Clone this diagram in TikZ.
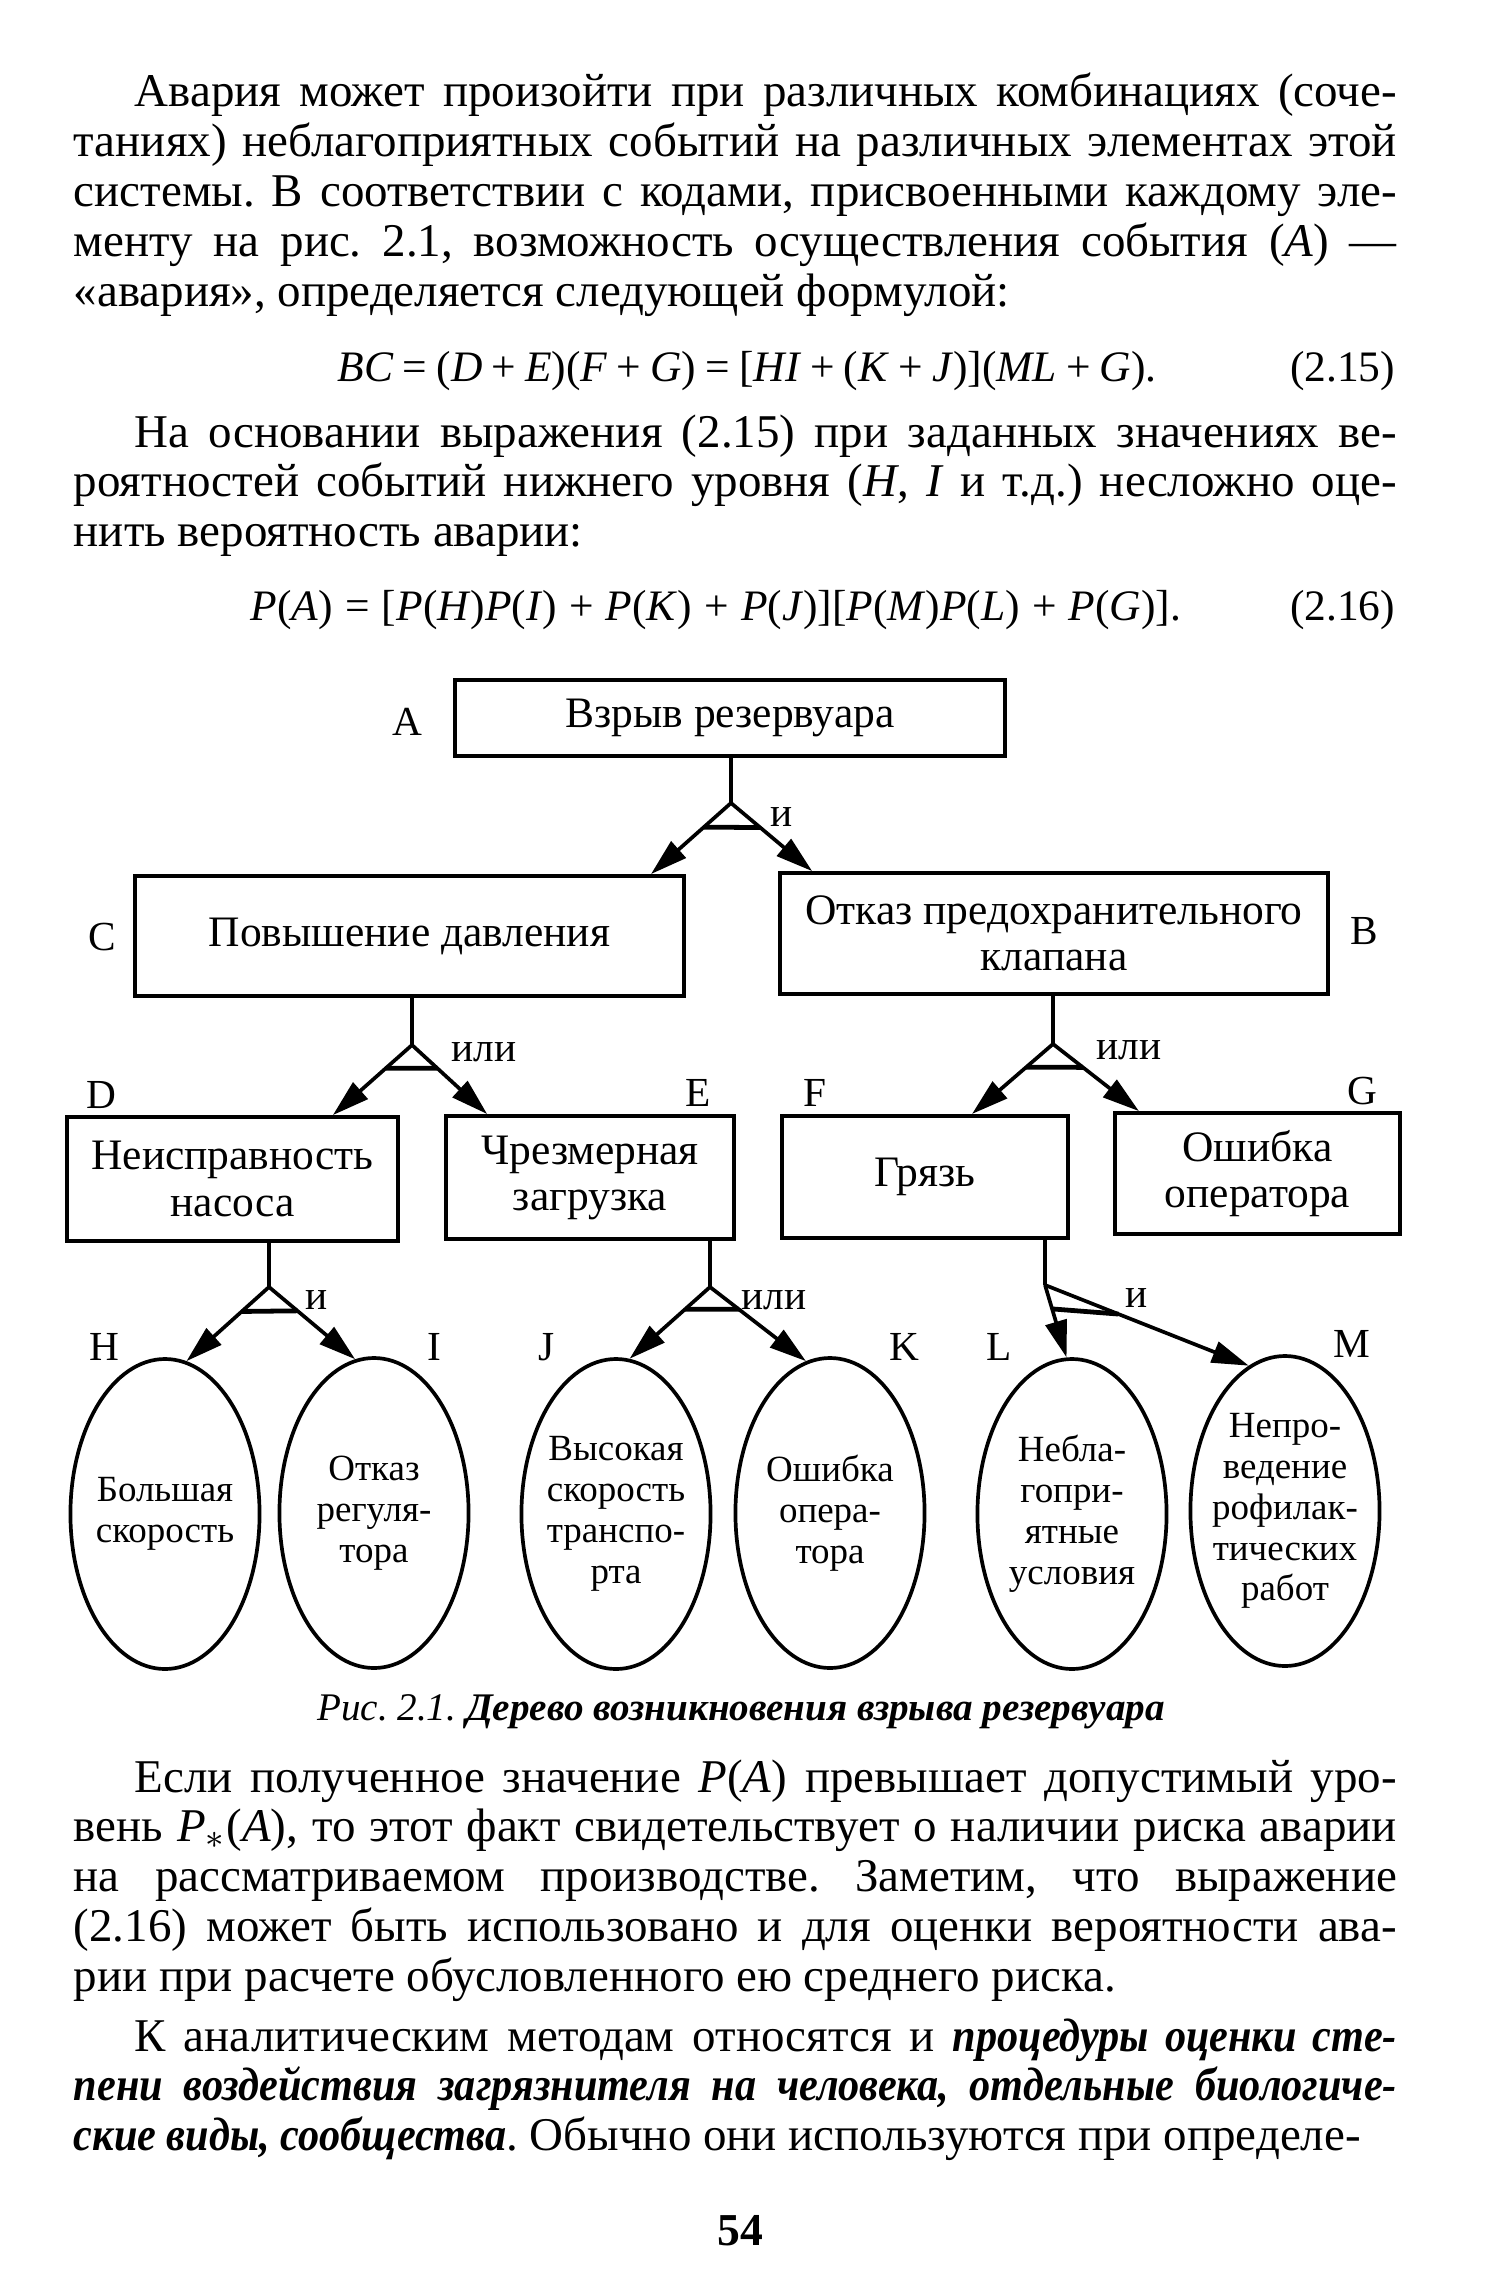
\documentclass[tikz,border=0pt]{standalone}
\usepackage{fontspec}
\setmainfont{Liberation Serif}
\newfontfamily\narrowserif{Liberation Serif}[FakeStretch=0.9]
\usetikzlibrary{shapes.geometric, arrows.meta, positioning, calc}
\def \bodysize {\fontsize{10.8}{11.45}\selectfont}
\def \formsize {\fontsize{10}{11.45}\selectfont}
\def \boxsize {\fontsize{10}{10.6}\selectfont}
\def \leafsize {\fontsize{8.5}{9.4}\selectfont}
\def \prob #1{\textit{P}(\textit{#1})}
\tolerance=10000
\hyphenpenalty=10000
\frenchspacing

\begin{document}
\begin{tikzpicture}[
    x=0.23pt, y=-0.23pt,
    para/.style={
        anchor=base west,
        inner sep=0pt,
        text width=304.3pt,
        align=justify,
        font=\bodysize
    },
    formula/.style={
        anchor=base west,
        inner sep=0pt,
        font=\formsize
    },
    eqnum/.style={
        anchor=base east,
        inner sep=0pt,
        font=\formsize
    },
    event/.style 2 args={
        rectangle,
        draw,
        line width=0.9pt,
        minimum width=#1,
        minimum height=#2,
        inner sep=0pt,
        align=center,
        font=\boxsize
    },
    leaf/.style={
        ellipse,
        draw,
        line width=0.85pt,
        minimum width=43.5pt,
        minimum height=71.3pt,
        inner sep=0pt
    },
    leaftext/.style={
        align=center,
        inner sep=0pt,
        font=\leafsize
    },
    tag/.style={
        inner sep=0pt,
        font=\fontsize{9.5}{10}\selectfont
    },
    gatename/.style={
        inner sep=0pt,
        font=\fontsize{9.5}{10}\selectfont
    },
    wire/.style={line width=0.85pt},
    bar/.style={line width=1.1pt},
    arrow/.style={
        -{Triangle[length=8.5pt, width=5pt]},
        line width=0.85pt
    }
]
\useasboundingbox (0,0) rectangle (1504,2280);

% Text above the figure
\node[para] (p1) at (73,107) {\hspace*{14pt}Авария может произойти при различных комбинациях (соче-\linebreak таниях) неблагоприятных событий на различных элементах этой\linebreak системы. В соответствии с кодами, присвоенными каждому эле-\linebreak менту на рис.~2.1, возможность осуществления события (\textit{A}) —\linebreak «авария», определяется следующей формулой:};
\node[formula] (eq1) at (337,381) {\spaceskip=2.1pt \textit{BC} = (\textit{D} + \textit{E})(\textit{F} + \textit{G}) = [\textit{HI} + (\textit{K} + \textit{J})](\textit{ML} + \textit{G}).};
\node[eqnum] (n1) at (1396,381) {(2.15)};
\node[para] (p2) at (73,447) {\hspace*{14pt}На основании выражения (2.15) при заданных значениях ве-\linebreak роятностей событий нижнего уровня (\textit{H}, \textit{I} и т.д.) несложно оце-\linebreak нить вероятность аварии:};
\node[formula] (eq2) at (250,620) {\spaceskip=2.8pt \prob{A} = [\prob{H}\prob{I} + \prob{K} + \prob{J}][\prob{M}\prob{L} + \prob{G}].};
\node[eqnum] (n2) at (1396,620) {(2.16)};

% Position the events
\node[event={126.5pt}{17.5pt}] (A) at (730,718) {Взрыв резервуара};
\node[event={126.3pt}{27.6pt}] (C) at (409.5,936) {Повышение давления};
\node[event={126pt}{27.8pt}] (B) at (1054,933.5) {Отказ предохранительного\\клапана};
\node[event={76.1pt}{28.5pt}] (D) at (232.5,1179) {Неисправность\\насоса};
\node[event={66.2pt}{28.3pt}] (E) at (590,1177.5) {Чрезмерная\\загрузка};
\node[event={65.8pt}{28.1pt}] (F) at (925,1177) {Грязь};
\node[event={65.6pt}{27.8pt}] (G) at (1257.5,1173.5) {Ошибка\\оператора};

% Position the basic events
\node[leaf, label={[leaftext]center:Большая\\скорость}] (H) at (165,1514) {};
\node[leaf, label={[leaftext]center:Отказ\\регуля-\\тора}] (I) at (374,1513) {};
\node[leaf, label={[leaftext]center:Высокая\\скорость\\транспо-\\рта}] (J) at (616,1514) {};
\node[leaf, label={[leaftext]center:Ошибка\\опера-\\тора}] (K) at (830,1513) {};
\node[leaf, label={[leaftext]center:Небла-\\гопри-\\ятные\\условия}] (L) at (1072,1514) {};
\node[leaf, label={[leaftext]center:Непро-\\ведение\\рофилак-\\тических\\работ}] (M) at (1285,1511) {};

% Letter codes
\node[tag] (lA) at (407,722) {A};
\node[tag] (lB) at (1364,931) {B};
\node[tag] (lC) at (102,937) {C};
\node[tag] (lD) at (101,1095) {D};
\node[tag] (lE) at (698,1093) {E};
\node[tag] (lF) at (815,1093) {F};
\node[tag] (lG) at (1362,1091) {G};
\node[tag] (lH) at (104,1347) {H};
\node[tag] (lI) at (434,1347) {I};
\node[tag] (lJ) at (547,1347) {J};
\node[tag] (lK) at (904,1347) {K};
\node[tag] (lL) at (999,1347) {L};
\node[tag] (lM) at (1352,1344) {M};

% Gates
\coordinate (gA) at (731,803);
\coordinate (gC) at (412,1045);
\coordinate (gB) at (1053,1044);
\coordinate (gD) at (269,1287);
\coordinate (gE) at (710,1287);
\coordinate (gF) at (1045,1285);
\coordinate (tC) at ($(C.north east)+(-35,0)$);
\coordinate (tB) at ($(B.north west)+(34,0)$);
\coordinate (tD) at ($(D.north east)+(-67,0)$);
\coordinate (tE) at ($(E.north west)+(43,0)$);
\coordinate (tF) at ($(F.north west)+(192,0)$);
\coordinate (tG) at ($(G.north west)+(26,0)$);

\node[gatename] (oA) at (782,817) {и};
\node[gatename] (oC) at (484,1052) {или};
\node[gatename] (oB) at (1129,1050) {или};
\node[gatename] (oD) at (317,1300) {и};
\node[gatename] (oE) at (774,1300) {или};
\node[gatename] (oF) at (1137,1298) {и};

% Draw the arrows
\draw[wire] (A.south -| gA) -- (gA);
\draw[arrow] (gA) -- (tC);
\draw[arrow] (gA) -- (tB);
\draw[bar] ($(gA)!0.34!(tC)$) -- ($(gA)!0.36!(tB)$);

\draw[wire] (C.south -| gC) -- (gC);
\draw[arrow] (gC) -- (tD);
\draw[arrow] (gC) -- (tE);
\draw[bar] ($(gC)!0.333!(tD)$) -- ($(gC)!0.338!(tE)$);

\draw[wire] (B.south -| gB) -- (gB);
\draw[arrow] (gB) -- (tF);
\draw[arrow] (gB) -- (tG);
\draw[bar] ($(gB)!0.333!(tF)$) -- ($(gB)!0.348!(tG)$);

\draw[wire] (D.south -| gD) -- (gD);
\draw[arrow] (gD) -- (H.82);
\draw[arrow] (gD) -- (I.97);
\draw[bar] ($(gD)!0.33!(H.82)$) -- ($(gD)!0.33!(I.97)$);

\draw[wire] (E.south -| gE) -- (gE);
\draw[arrow] (gE) -- (J.85);
\draw[arrow] (gE) -- (K.99);
\draw[bar] ($(gE)!0.31!(J.85)$) -- ($(gE)!0.30!(K.99)$);

\draw[wire] (F.south -| gF) -- (gF);
\draw[arrow] (gF) -- (L.92);
\draw[arrow] (gF) -- (M.104);
\draw[bar] ($(gF)!0.33!(L.92)$) -- ($(gF)!0.36!(M.104)$);

% Caption and text below
\node[anchor=base, inner sep=0pt, font=\fontsize{9}{10}\selectfont] (cap) at (741,1720) {\textit{Рис. 2.1.} \textbf{\textit{Дерево возникновения взрыва резервуара}}};
\node[para] (p3) at (73,1792) {\hspace*{14pt}Если полученное значение \textit{P}(\textit{A}) превышает допустимый уро-\linebreak вень \textit{P}$_*$(\textit{A}), то этот факт свидетельствует о наличии риска аварии\linebreak на рассматриваемом производстве. Заметим, что выражение\linebreak (2.16) может быть использовано и для оценки вероятности ава-\linebreak рии при расчете обусловленного ею среднего риска.};
\node[para] (p4) at (73,2051) {\parfillskip=0pt\hspace*{14pt}К аналитическим методам относятся и {\narrowserif\bfseries\itshape процедуры оценки сте-\linebreak пени воздействия загрязнителя на человека, отдельные биологиче-\linebreak ские виды, сообщества}. Обычно они используются при определе-};
\node[anchor=base, inner sep=0pt, font=\fontsize{10.5}{12}\selectfont\bfseries] (pnum) at (740,2245) {54};
\end{tikzpicture}
\end{document}
